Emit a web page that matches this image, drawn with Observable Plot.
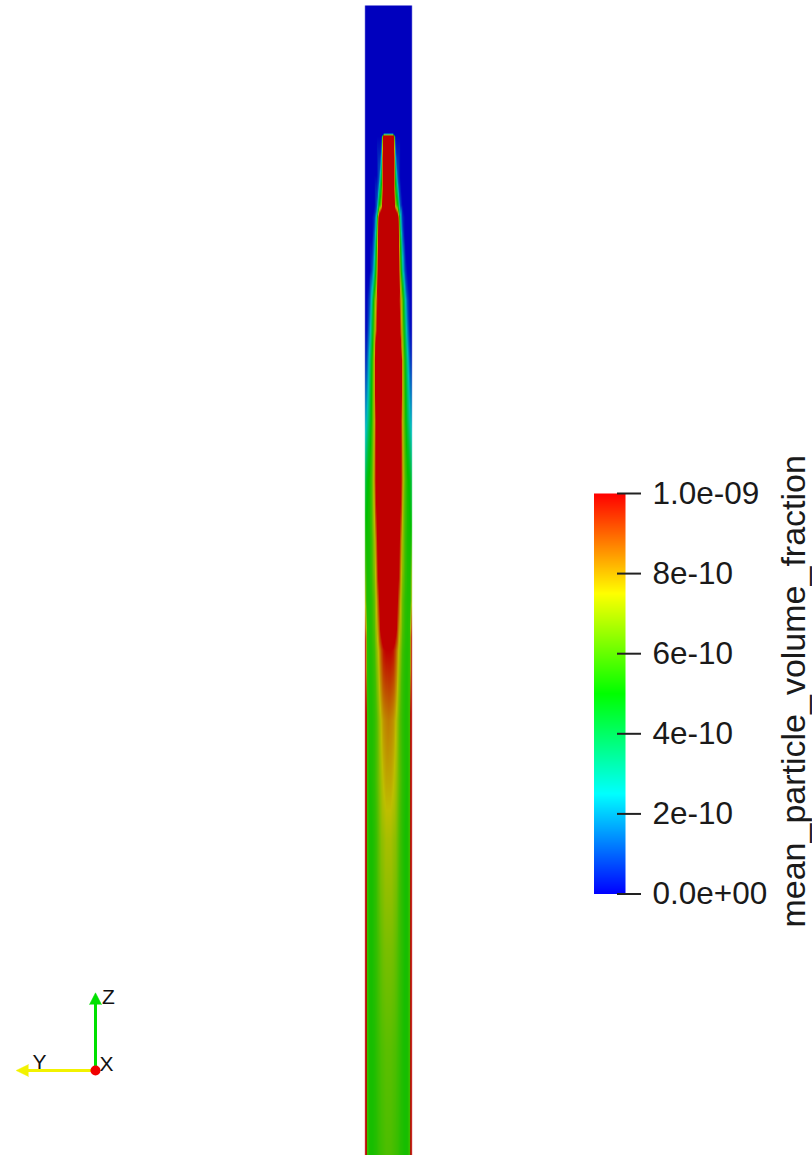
<!DOCTYPE html>
<html><head><meta charset="utf-8">
<script src="https://cdn.jsdelivr.net/npm/d3@7"></script>
<script src="https://cdn.jsdelivr.net/npm/@observablehq/plot@0.6"></script>
<style>
html,body{margin:0;padding:0;background:#fff;overflow:hidden}
#stage{position:relative;width:812px;height:1155px;background:#fff}
#stage svg{position:absolute;left:0;top:0;max-width:none}
</style></head><body><div id="stage"></div>
<script>
// radial sample positions across the column (half profile, mirrored), -1..1
const radialPositions = [0, 0.1, 0.2, 0.3, 0.4, 0.5, 0.6, 0.7, 0.8, 0.9, 0.95, 1.0];
// heights of the sampled rows (0 = bottom of view, 115 = top of column)
const heights = [115, 102.2, 101.9, 98, 95, 93.8, 91.5, 88.5, 85.5, 82.5, 79.5, 73.5, 67.5, 61.5, 55.5, 50.5, 43.5, 37.5, 31.5, 20.5, 10.5, 0];
// mean particle volume fraction, in units of 1e-10, one row per height
const profiles = [
  [0,0,0,0,0,0,0,0,0,0,0,0],
  [0,0,0,0,0,0,0,0,0,0,0,0],
  [14,14,14,0,0,0,0,0,0,0,0,0],
  [14,14,14,4,1,0,0,0,0,0,0,0],
  [14,14,14,7,5,1,0,0,0,0,0,0],
  [14,14,14,14,11,3,0.5,0,0,0,0,0],
  [14,14,14,14,12,5,1.5,0,0,0,0,0],
  [14,14,14,14,13,6.5,3,0.8,0,0,0,0],
  [14,14,14,14,12,8.5,6,3,1,0.2,0,0],
  [14,14,14,14,14,9.5,6.5,4,1.8,0.4,0.1,0],
  [14,14,14,14,14,13,7.5,5,3,1.2,0.6,0.3],
  [14,14,14,14,14,11,7.5,5.5,4,2.8,2.2,2],
  [14,14,14,14,14,11,8,6,5.2,4.8,4.3,4],
  [14,14,14,14,12,9,7,5.8,5.3,5.2,5.2,5.5],
  [14,14,14,12.5,9.5,7.8,6.2,5.6,5.4,5.4,6,8],
  [10,10,9.8,9,7.8,6.8,5.8,5.5,5.4,5.6,9,12],
  [8.4,8.3,8.1,7.6,6.8,6,5.6,5.4,5.4,5.8,12,14],
  [7.8,7.8,7.6,7.2,6.6,6,5.6,5.4,5.3,5.8,12,14],
  [7.2,7.2,7,6.8,6.3,5.8,5.5,5.3,5.3,5.8,12,14],
  [6.6,6.6,6.5,6.3,6,5.7,5.5,5.3,5.3,5.8,12,14],
  [6.2,6.2,6.1,6,5.8,5.6,5.4,5.3,5.3,5.8,12,14],
  [6,6,5.9,5.8,5.7,5.5,5.4,5.3,5.3,5.8,12,14]
];
const UNIT = 1e-10;
const tickValues = [0, 2e-10, 4e-10, 6e-10, 8e-10, 1e-9];
const tickLabels = ["0.0e+00", "2e-10", "4e-10", "6e-10", "8e-10", "1.0e-09"];
const fieldName = "mean_particle_volume_fraction";
const rainbow = ["#0000ff", "#00ffff", "#00ff00", "#ffff00", "#ff0000"];
const rainbowShaded = ["#0000be", "#00bebe", "#00be00", "#bebe00", "#c00000"];
// orientation triad
const triadShafts = [
  {axis: "Y", x1: 95, y1: 1070, x2: 24, y2: 1070, color: "#f2f200"},
  {axis: "Z", x1: 95, y1: 1070, x2: 95, y2: 1000, color: "#00e000"}
];
const triadCones = [
  {axis: "Y", x: 28, y: 1070, angle: -90, len: 18, color: "#f2f200"},
  {axis: "Z", x: 95, y: 1004, angle: 0, len: 17, color: "#00e000"}
];
const triadOrigin = [{x: 95, y: 1070}];
const triadLabels = [
  {text: "Y", x: 39, y: 1062},
  {text: "Z", x: 108, y: 997},
  {text: "X", x: 106, y: 1064}
];

const samples = [];
heights.forEach((z, i) => radialPositions.forEach((r, j) => {
  const v = profiles[i][j] * UNIT;
  samples.push({r, z, v});
  if (r > 0) samples.push({r: -r, z, v});
}));

const font = "'Liberation Sans', Arial, sans-serif";
const stage = document.getElementById("stage");

const main = Plot.plot({
  width: 812, height: 1155, margin: 0,
  style: {background: "transparent"},
  x: {domain: [-1, 1], range: [364.3, 411.7], axis: null},
  y: {domain: [0, 115], range: [1155, 5], axis: null},
  color: {type: "linear", domain: [0, 1e-9], interpolate: d3.piecewise(d3.interpolateRgb, rainbowShaded), clamp: true},
  marks: [
    Plot.raster(samples, {x: "r", y: "z", fill: "v", x1: -1, x2: 1, y1: 0, y2: 115, interpolate: "barycentric"}),
    Plot.ruleX([-1, 1], {y1: 0, y2: 115, stroke: "white", strokeOpacity: 0.45, strokeWidth: 1})
  ]
});
stage.appendChild(main);

const legend = Plot.plot({
  width: 812, height: 1155, margin: 0,
  style: {background: "transparent", fontFamily: font},
  x: {domain: [0, 812], range: [0, 812], axis: null},
  y: {domain: [0, 1e-9], range: [893.5, 493], axis: null},
  color: {type: "linear", domain: [0, 1e-9], interpolate: d3.piecewise(d3.interpolateRgb, rainbow), clamp: true},
  marks: [
    Plot.raster({fill: (x, y) => y, x1: 593.5, x2: 625, y1: 0, y2: 1e-9}),
    Plot.ruleY(tickValues, {x1: 617, x2: 641, stroke: "#222", strokeWidth: 2}),
    Plot.text(tickValues, {x: 652, y: d => d, text: (d, i) => tickLabels[i], textAnchor: "start", fontSize: 31.5, fill: "#1a1a1a"}),
    Plot.text([fieldName], {x: 794, y: 5.06e-10, text: d => d, rotate: -90, fontSize: 34, fill: "#1a1a1a"})
  ]
});
stage.appendChild(legend);

const triad = Plot.plot({
  width: 812, height: 1155, margin: 0,
  style: {background: "transparent", fontFamily: font},
  x: {domain: [0, 812], range: [0, 812], axis: null},
  y: {domain: [0, 1155], range: [0, 1155], axis: null},
  marks: [
    Plot.link(triadShafts, {x1: "x1", y1: "y1", x2: "x2", y2: "y2", stroke: d => d.color, strokeWidth: 3}),
    Plot.vector(triadCones, {x: "x", y: "y", rotate: "angle", length: "len", shape: "spike", r: 6, anchor: "start", fill: d => d.color, stroke: d => d.color, strokeWidth: 0.5}),
    Plot.dot(triadOrigin, {x: "x", y: "y", r: 5, fill: "#f00000"}),
    Plot.text(triadLabels, {x: "x", y: "y", text: "text", fontSize: 21, fill: "#111"})
  ]
});
stage.appendChild(triad);
</script></body></html>
